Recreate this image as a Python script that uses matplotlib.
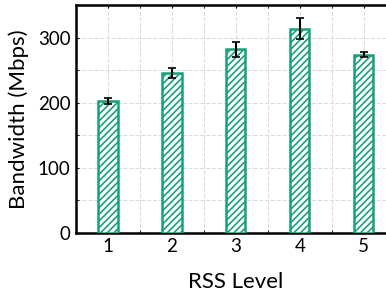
import numpy as np
import matplotlib
matplotlib.use('Agg')
import matplotlib.pyplot as plt
from matplotlib.ticker import MultipleLocator

levels = [1, 2, 3, 4, 5]
bandwidth = [203, 246, 282, 314, 274]
errors = [4.5, 8, 11.5, 16, 4.5]

plt.rcParams['font.family'] = ['Lato', 'DejaVu Sans']
plt.rcParams['hatch.color'] = '#18a07a'
plt.rcParams['hatch.linewidth'] = 1.2

green = '#18a07a'

fig = plt.figure(figsize=(3.86, 2.99), dpi=100)
ax = fig.add_axes([0.197, 0.221, 0.828, 0.762])

ax.bar(levels, bandwidth, width=0.3, facecolor='white', edgecolor=green,
       linewidth=1.8, hatch='/////', zorder=3)
ax.errorbar(levels, bandwidth, yerr=errors, fmt='none', ecolor='black',
            elinewidth=1.5, capsize=3, capthick=1.2, zorder=4)

ax.set_xlim(0.5, 5.5)
ax.set_ylim(0, 350)
ax.set_xticks(levels)
ax.set_yticks([0, 100, 200, 300])
ax.xaxis.set_minor_locator(MultipleLocator(0.5))
ax.yaxis.set_minor_locator(MultipleLocator(50))
ax.grid(which='both', color='#dcdcdc', linestyle='--', linewidth=0.8, zorder=0)
ax.tick_params(which='both', direction='in', length=2, top=True, right=False,
               labelsize=13.5, pad=4)
for s in ax.spines.values():
    s.set_linewidth(1.8)
ax.spines['right'].set_visible(False)

ax.set_xlabel('RSS Level', fontsize=16, labelpad=12)
ax.set_ylabel('Bandwidth (Mbps)', fontsize=16, labelpad=6)

fig.savefig('out.png', dpi=100)
